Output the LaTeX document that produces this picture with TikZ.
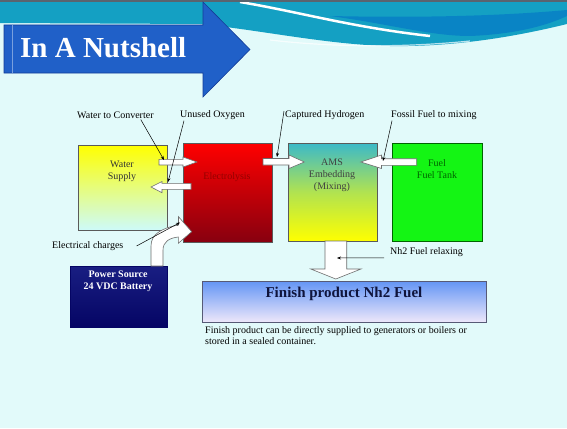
\documentclass[tikz,border=0pt]{standalone}
\usepackage{fontspec}
\setmainfont{Liberation Serif}
\usetikzlibrary{arrows.meta}
\definecolor{bgc}{RGB}{226,250,250}
\definecolor{topgray}{RGB}{90,100,110}
\definecolor{bandteal}{RGB}{20,160,195}
\definecolor{bandblue}{RGB}{0,110,200}
\definecolor{arrowblue}{RGB}{32,96,200}
\definecolor{arrowedge}{RGB}{20,60,150}
\definecolor{wsTop}{RGB}{255,255,0}
\definecolor{wsBot}{RGB}{205,250,250}
\definecolor{elTop}{RGB}{255,0,0}
\definecolor{elBot}{RGB}{135,0,15}
\definecolor{elText}{RGB}{150,0,0}
\definecolor{amsTop}{RGB}{60,185,200}
\definecolor{amsBot}{RGB}{255,255,0}
\definecolor{fuelG}{RGB}{20,245,20}
\definecolor{fuelText}{RGB}{0,100,0}
\definecolor{pwTop}{RGB}{25,30,130}
\definecolor{pwBot}{RGB}{5,5,100}
\definecolor{finTop}{RGB}{100,150,245}
\definecolor{finBot}{RGB}{238,232,250}
\definecolor{finText}{RGB}{15,20,60}
\definecolor{boxline}{RGB}{90,90,90}
\definecolor{blockline}{RGB}{110,110,110}
\tikzset{
  procbox/.style={draw=boxline, line width=0.5pt, anchor=north west, inner sep=0pt},
  boxtext/.style={font=\fontsize{10}{12}\selectfont, align=center, inner sep=0pt},
  lbl/.style={font=\fontsize{10}{12}\selectfont, inner sep=1pt, anchor=west},
  blockarrow/.style={fill=white, draw=blockline, line width=0.6pt, line join=miter},
  callout/.style={draw=black, line width=0.5pt, -{Stealth[length=4pt,width=3pt]}}
}
\begin{document}
\begin{tikzpicture}[x=1pt,y=-1pt]
\useasboundingbox (0,0) rectangle (567,428);
\fill[bgc] (0,0) rectangle (567,428);
% top decorative band
\fill[bandteal] (0,2) -- (567,2) -- (567,24) .. controls (510,38) and (450,47) .. (390,46)
  .. controls (330,45) and (260,30) .. (200,24) -- (0,23) -- cycle;
\fill[bandblue, opacity=0.55] (330,16) .. controls (390,24) and (430,36) .. (470,36)
  .. controls (520,34) and (550,24) .. (567,16) -- (567,10) .. controls (500,16) and (420,18) .. (330,16) -- cycle;
\draw[white, line width=2.5pt] (240,2) .. controls (300,12) and (350,27) .. (430,36);
\draw[white, opacity=0.7, line width=1.2pt] (270,40) .. controls (330,47) and (400,48) .. (470,41);
\fill[topgray] (0,0) rectangle (567,2);
% title arrow
\filldraw[fill=arrowblue, draw=arrowedge, line width=0.6pt] (4,25) -- (203,25) -- (203,2) -- (250,49.5) -- (203,97) -- (203,73) -- (4,73) -- cycle;
\draw[arrowblue!60!white, line width=0.6pt] (12,25) -- (12,73);
\node[anchor=base west, text=white, inner sep=0pt, font=\bfseries\fontsize{29}{32}\selectfont] (title) at (20,58) {In A Nutshell};

% process boxes
\node[procbox, minimum width=89pt, minimum height=85pt, top color=wsTop, bottom color=wsBot] (ws) at (78,145) {};
\node[procbox, minimum width=89pt, minimum height=99pt, top color=elTop, bottom color=elBot] (el) at (183,143) {};
\node[procbox, minimum width=89pt, minimum height=98pt, top color=amsTop, bottom color=amsBot, middle color=amsTop!40!amsBot] (ams) at (288,143) {};
\node[procbox, draw=fuelText, minimum width=90pt, minimum height=98pt, fill=fuelG] (fuel) at (392,143) {};
\node[procbox, draw=pwBot, minimum width=97pt, minimum height=61pt, top color=pwTop, bottom color=pwBot] (pw) at (70,266) {};
\node[procbox, draw=finText!70, minimum width=284pt, minimum height=41pt, top color=finTop, bottom color=finBot] (fin) at (202,281) {};

% box texts
\node[boxtext, text=black!80] (wst) at (122,171) {Water\\Supply};
\node[boxtext, text=elText] (elt) at (227,177) {Electrolysis};
\node[boxtext, text=black!75, font=\fontsize{10}{12}\selectfont] (amst) at (332,175) {AMS\\Embedding\\(Mixing)};
\node[boxtext, text=fuelText] (fuelt) at (437,169) {Fuel\\Fuel Tank};
\node[boxtext, text=white, font=\bfseries\fontsize{10}{12}\selectfont] (pwt) at (118,281) {Power Source\\24 VDC Battery};
\node[boxtext, text=finText, font=\bfseries\fontsize{15}{18}\selectfont] (fint) at (344,294) {Finish product Nh2 Fuel};
\node[anchor=north west, inner sep=0pt, align=left, font=\fontsize{10}{11.6}\selectfont] (note) at (205,326)
  {Finish product can be directly supplied to generators or boilers or\\stored in a sealed container.};

% block arrows
\draw[blockarrow] (159,159.3) -- (183,159.3) -- (183,157) -- (197,162) -- (183,167) -- (183,165) -- (159,165) -- cycle;
\draw[blockarrow] (191,183.3) -- (162,183.3) -- (162,181.5) -- (151,187) -- (162,192.7) -- (162,189.3) -- (191,189.3) -- cycle;
\draw[blockarrow] (263,158.5) -- (289,158.5) -- (289,155) -- (304.3,162) -- (289,168.5) -- (289,165) -- (263,165) -- cycle;
\draw[blockarrow] (416.7,158.7) -- (381.5,158.7) -- (381.5,155) -- (360.7,162) -- (381.5,168.5) -- (381.5,165.3) -- (416.7,165.3) -- cycle;
\draw[blockarrow] (325,241) -- (346.7,241) -- (346.7,269) -- (361,269) -- (335.8,279) -- (310.7,269) -- (325,269) -- cycle;
\draw[blockarrow] (151,266) -- (151,246) .. controls (151,234) and (162,228) .. (178.5,225)
  -- (178.5,216.7) -- (191.7,231.7) -- (178.3,243.3) -- (178.3,237)
  .. controls (169,238) and (163,242) .. (163,250) -- (163,266) -- cycle;

% callout labels
\node[lbl] (lwc) at (76,115) {Water to Converter};
\node[lbl] (luo) at (179,115) {Unused Oxygen};
\node[lbl] (lch) at (284,115) {Captured Hydrogen};
\node[lbl] (lff) at (390,115) {Fossil Fuel to mixing};
\node[lbl] (lec) at (51,246) {Electrical charges};
\node[lbl] (lnr) at (389,252) {Nh2 Fuel relaxing};

% callout ends
\coordinate (ewc) at (164,160);
\coordinate (euo) at (168,182);
\coordinate (ech) at (277,157);
\coordinate (eff) at (383,161);
\coordinate (eec) at (180,222.5);
\coordinate (enr) at (337,258);

\draw[callout] ([xshift=-14pt]lwc.south east) -- (ewc);
\draw[callout] ([xshift=5pt]luo.south west) -- (euo);
\draw[callout] ([yshift=4pt]lch.west) -- (ech);
\draw[callout] ([xshift=2pt]lff.south west) -- (eff);
\draw[callout] ([xshift=12pt]lec.east) -- (eec);
\draw[callout] ([xshift=-5pt]lnr.south west) -- (enr);
\end{tikzpicture}
\end{document}
